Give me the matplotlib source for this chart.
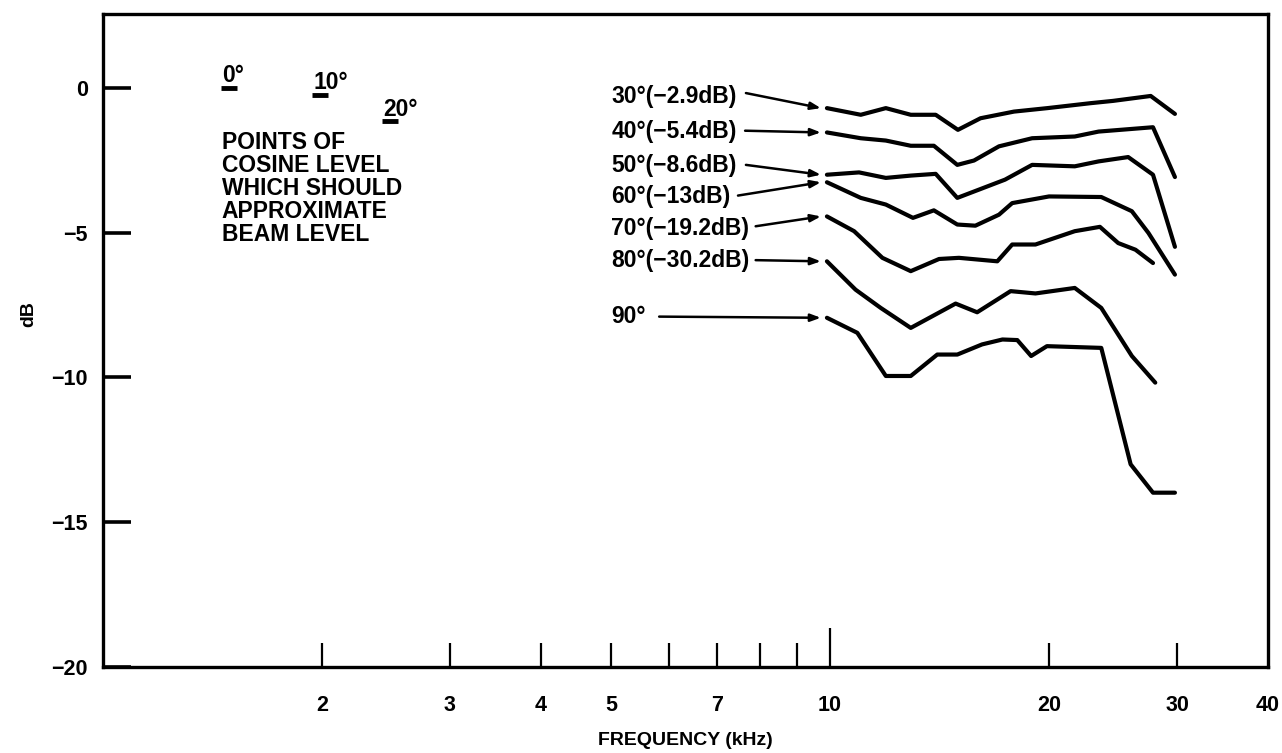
import numpy as np
import matplotlib.pyplot as plt
from matplotlib.ticker import FixedLocator, NullFormatter

plt.rcParams['font.family'] = ['Liberation Sans', 'DejaVu Sans']
plt.rcParams['font.weight'] = 'bold'

# Beam level vs frequency for each off-axis angle (dB)
freq_30 = [9.9, 11.02, 11.93, 12.91, 13.97, 14.99, 16.1, 17.9, 19.9, 22.8, 24.5, 27.6, 29.8]
db_30 = [-0.70, -0.93, -0.70, -0.93, -0.93, -1.45, -1.05, -0.82, -0.70, -0.53, -0.45, -0.28, -0.90]

freq_40 = [9.9, 11.02, 11.93, 12.91, 13.89, 14.96, 15.77, 17.07, 18.96, 21.7, 23.4, 27.8, 29.8]
db_40 = [-1.54, -1.74, -1.82, -2.00, -2.00, -2.66, -2.51, -2.02, -1.74, -1.68, -1.51, -1.36, -3.08]

freq_50 = [9.9, 10.96, 11.93, 12.91, 13.97, 14.96, 16.0, 17.4, 18.96, 21.7, 23.4, 25.7, 27.8, 29.8]
db_50 = [-3.00, -2.92, -3.11, -3.03, -2.97, -3.80, -3.52, -3.17, -2.66, -2.71, -2.54, -2.39, -3.00, -5.49]

freq_60 = [9.9, 11.02, 11.93, 13.0, 13.89, 14.96, 15.84, 17.07, 17.8, 20.0, 23.6, 26.0, 27.4, 29.8]
db_60 = [-3.26, -3.80, -4.03, -4.49, -4.23, -4.72, -4.76, -4.38, -3.98, -3.75, -3.77, -4.26, -5.01, -6.45]

freq_70 = [9.9, 10.79, 11.80, 12.91, 14.12, 15.04, 16.98, 17.8, 19.16, 21.7, 23.5, 24.9, 26.3, 27.8]
db_70 = [-4.44, -4.95, -5.87, -6.33, -5.91, -5.87, -5.99, -5.41, -5.41, -4.95, -4.80, -5.36, -5.59, -6.05]

freq_80 = [9.9, 10.84, 11.74, 12.91, 14.88, 15.93, 17.71, 19.16, 21.7, 23.6, 26.0, 28.0]
db_80 = [-5.99, -6.97, -7.60, -8.29, -7.45, -7.75, -7.02, -7.10, -6.91, -7.60, -9.26, -10.18]

freq_90 = [9.9, 10.90, 11.93, 12.91, 14.04, 14.96, 16.18, 17.26, 18.09, 18.9, 19.87, 23.6, 25.9, 27.8, 29.8]
db_90 = [-7.94, -8.46, -9.95, -9.95, -9.21, -9.21, -8.86, -8.69, -8.71, -9.26, -8.92, -8.98, -13.0, -13.98, -13.98]

curve_labels = ['30°(−2.9dB)', '40°(−5.4dB)', '50°(−8.6dB)', '60°(−13dB)',
                '70°(−19.2dB)', '80°(−30.2dB)', '90°']
label_db = [-0.30, -1.51, -2.69, -3.75, -4.84, -5.95, -7.88]
arrow_tail_f = [7.66, 7.64, 7.66, 7.47, 7.9, 7.9, 5.82]
arrow_tail_db = [-0.18, -1.48, -2.66, -3.72, -4.78, -5.95, -7.90]

# cosine level reference points
cos_labels = ['0°', '10°', '20°']
cos_freq = [1.49, 1.99, 2.48]
cos_db = [0.0, -0.24, -1.16]

x_major = [2, 3, 4, 5, 7, 10, 20, 30, 40]
x_minor = [6, 8, 9]
y_ticks = [0, -5, -10, -15, -20]

fig = plt.figure(figsize=(12.82, 7.53), dpi=100)
ax = fig.add_axes([0.0803, 0.1142, 0.9087, 0.8672])

curves = [(freq_30, db_30), (freq_40, db_40), (freq_50, db_50), (freq_60, db_60),
          (freq_70, db_70), (freq_80, db_80), (freq_90, db_90)]
for (f, d), lab, ly, tf, td in zip(curves, curve_labels, label_db, arrow_tail_f, arrow_tail_db):
    ax.plot(f, d, color='black', lw=3.0, solid_joinstyle='round', solid_capstyle='round')
    ax.text(5.0, ly, lab, fontsize=16.5, fontweight='bold', ha='left', va='center')
    ax.annotate('', xy=(f[0] * 0.981, d[0]), xytext=(tf, td),
                arrowprops=dict(arrowstyle='-|>,head_length=0.6,head_width=0.22',
                                color='black', lw=1.8, shrinkA=0, shrinkB=0))

for lab, cf, cd in zip(cos_labels, cos_freq, cos_db):
    ax.plot([cf], [cd], marker='_', markersize=12, mew=3.5, color='black')
    ax.annotate(lab, xy=(cf, cd), xytext=(-5, 0.5), textcoords='offset points',
                fontsize=16.5, fontweight='bold', ha='left', va='bottom')

ax.text(1.457, -1.5, 'POINTS OF\nCOSINE LEVEL\nWHICH SHOULD\nAPPROXIMATE\nBEAM LEVEL',
        fontsize=16.5, fontweight='bold', ha='left', va='top', linespacing=1.0)

ax.set_xscale('log')
ax.set_xlim(1, 40)
ax.set_ylim(-20, 2.55)

ax.xaxis.set_major_locator(FixedLocator(x_major))
ax.xaxis.set_minor_locator(FixedLocator(x_minor))
ax.set_xticklabels([str(v) for v in x_major])
ax.xaxis.set_minor_formatter(NullFormatter())
ax.set_yticks(y_ticks)

ax.tick_params(axis='x', which='both', direction='in', length=17, width=1.6,
               pad=20, labelsize=15.5)
ax.tick_params(axis='y', direction='in', length=20, width=2.6, pad=11, labelsize=15.5)
ax.tick_params(top=False, right=False)

# the 10 kHz tick is drawn longer
for t, v in zip(ax.xaxis.get_major_ticks(), x_major):
    if v == 10:
        t.tick1line.set_markersize(28)
    if v == 40:
        t.tick1line.set_visible(False)

for s in ax.spines.values():
    s.set_linewidth(2.4)

ax.set_xlabel('FREQUENCY (kHz)', fontsize=14, fontweight='bold', labelpad=12)
ax.set_ylabel('dB', fontsize=14, fontweight='bold')
ax.yaxis.set_label_coords(-0.056, 0.54)

fig.savefig('out.png', dpi=100)
